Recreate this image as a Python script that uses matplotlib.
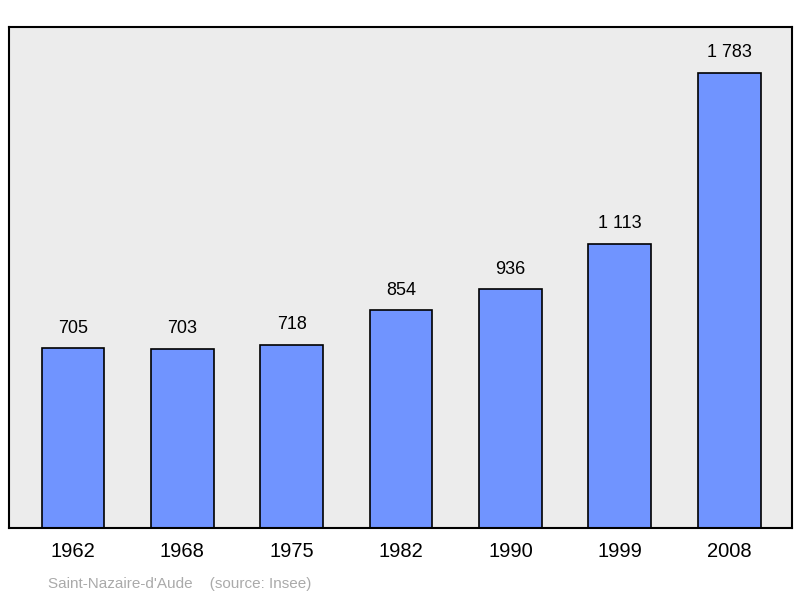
import matplotlib
matplotlib.use('Agg')
import matplotlib.pyplot as plt

years = ['1962', '1968', '1975', '1982', '1990', '1999', '2008']
population = [705, 703, 718, 854, 936, 1113, 1783]
value_labels = ['705', '703', '718', '854', '936', '1 113', '1 783']

plt.rcParams['font.family'] = ['Liberation Sans', 'DejaVu Sans']

fig = plt.figure(figsize=(8, 5.98), dpi=100)
ax = fig.add_axes([9/800, 70/598, 783/800, 501/598])
ax.set_facecolor('#ececec')

x = list(range(len(years)))
ax.bar(x, population, width=0.575, color='#7094ff', edgecolor='black',
       linewidth=1.2, zorder=2)
for xi, v, lab in zip(x, population, value_labels):
    ax.text(xi, v + 45, lab, ha='center', va='bottom', fontsize=13)

ax.set_xlim(-0.585, 6.575)
ax.set_ylim(0, 1963)
ax.set_yticks([])
ax.set_xticks(x)
ax.set_xticklabels(years, fontsize=14.5)
ax.tick_params(axis='x', length=0, pad=10)
for s in ax.spines.values():
    s.set_linewidth(1.5)

fig.text(48/800, 1 - 584/598, "Saint-Nazaire-d'Aude    (source: Insee)",
         fontsize=11, color='#aaaaaa', va='center')

plt.savefig('out.png', dpi=100)
